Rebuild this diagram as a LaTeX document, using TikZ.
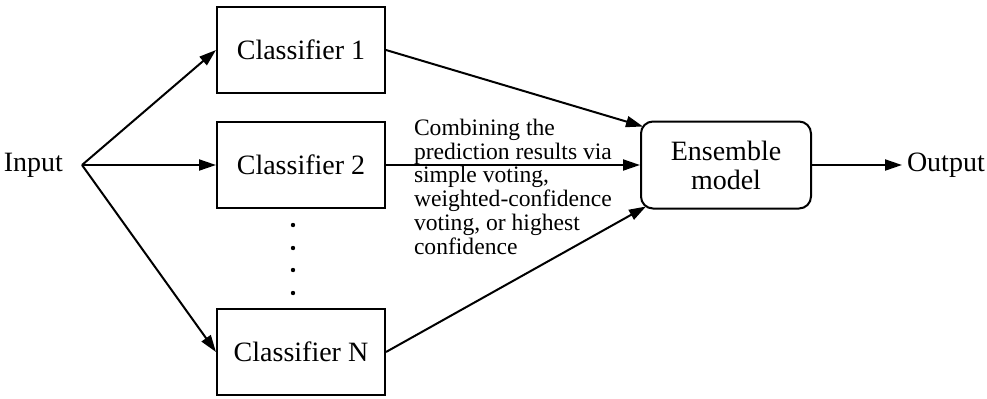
\documentclass[tikz,border=0pt]{standalone}
\usepackage{fontspec}
\setmainfont{Liberation Serif}
\usepackage{tikz}
\usetikzlibrary{positioning, arrows.meta, calc}

\begin{document}
\begin{tikzpicture}[
    x=0.5pt, y=-0.5pt, line width=1pt,
    clfnode/.style={rectangle, draw=black, minimum width=84pt, minimum height=43pt, font=\fontsize{14}{15}\selectfont},
    ensnode/.style={rectangle, rounded corners=6pt, draw=black, minimum width=85pt, minimum height=43.5pt, align=center, font=\fontsize{14}{14.5}\selectfont},
    txtnode/.style={inner sep=0pt, font=\fontsize{14}{15}\selectfont},
    lblnode/.style={inner sep=0pt, align=left, font=\fontsize{11.8}{11.9}\selectfont},
    arr/.style={-{Triangle[length=8.5pt,width=5.5pt]}}
]
\useasboundingbox (0,0) rectangle (987,398);
\node[clfnode](c1) at (301,50){Classifier 1};
\node[clfnode](c2)[below = 13.5pt of c1]{Classifier 2};
\node[clfnode](cN)[below = 49.5pt of c2]{Classifier N};
\node[ensnode](ens)[right = 127pt of c2]{Ensemble\\model};
\node[txtnode](inp)[left = 76pt of c2]{Input};
\coordinate[right = 9pt of inp](fork);
\node[txtnode, inner sep=2pt](outp)[right = 45pt of ens]{Output};
\node[lblnode, anchor=north west](lbl) at (413,118){Combining the\\prediction results via\\simple voting,\\weighted-confidence\\voting, or highest\\confidence};
% vertical dots
\foreach \y in {225,248,270,293}
    \fill (293,\y) circle (1.1pt);
\draw[arr] (fork) -- (c1.west);
\draw[arr] (fork) -- (c2.west);
\draw[arr] (fork) -- (cN.west);
\draw[arr] (c1.east) -- ($(ens.north west)+(3,6)$);
\draw[arr] (c2.east) -- (ens.west);
\draw[arr] (cN.east) -- ($(ens.south west)+(6,-3)$);
\draw[arr] (ens.east) -- (outp.west);
\end{tikzpicture}
\end{document}
